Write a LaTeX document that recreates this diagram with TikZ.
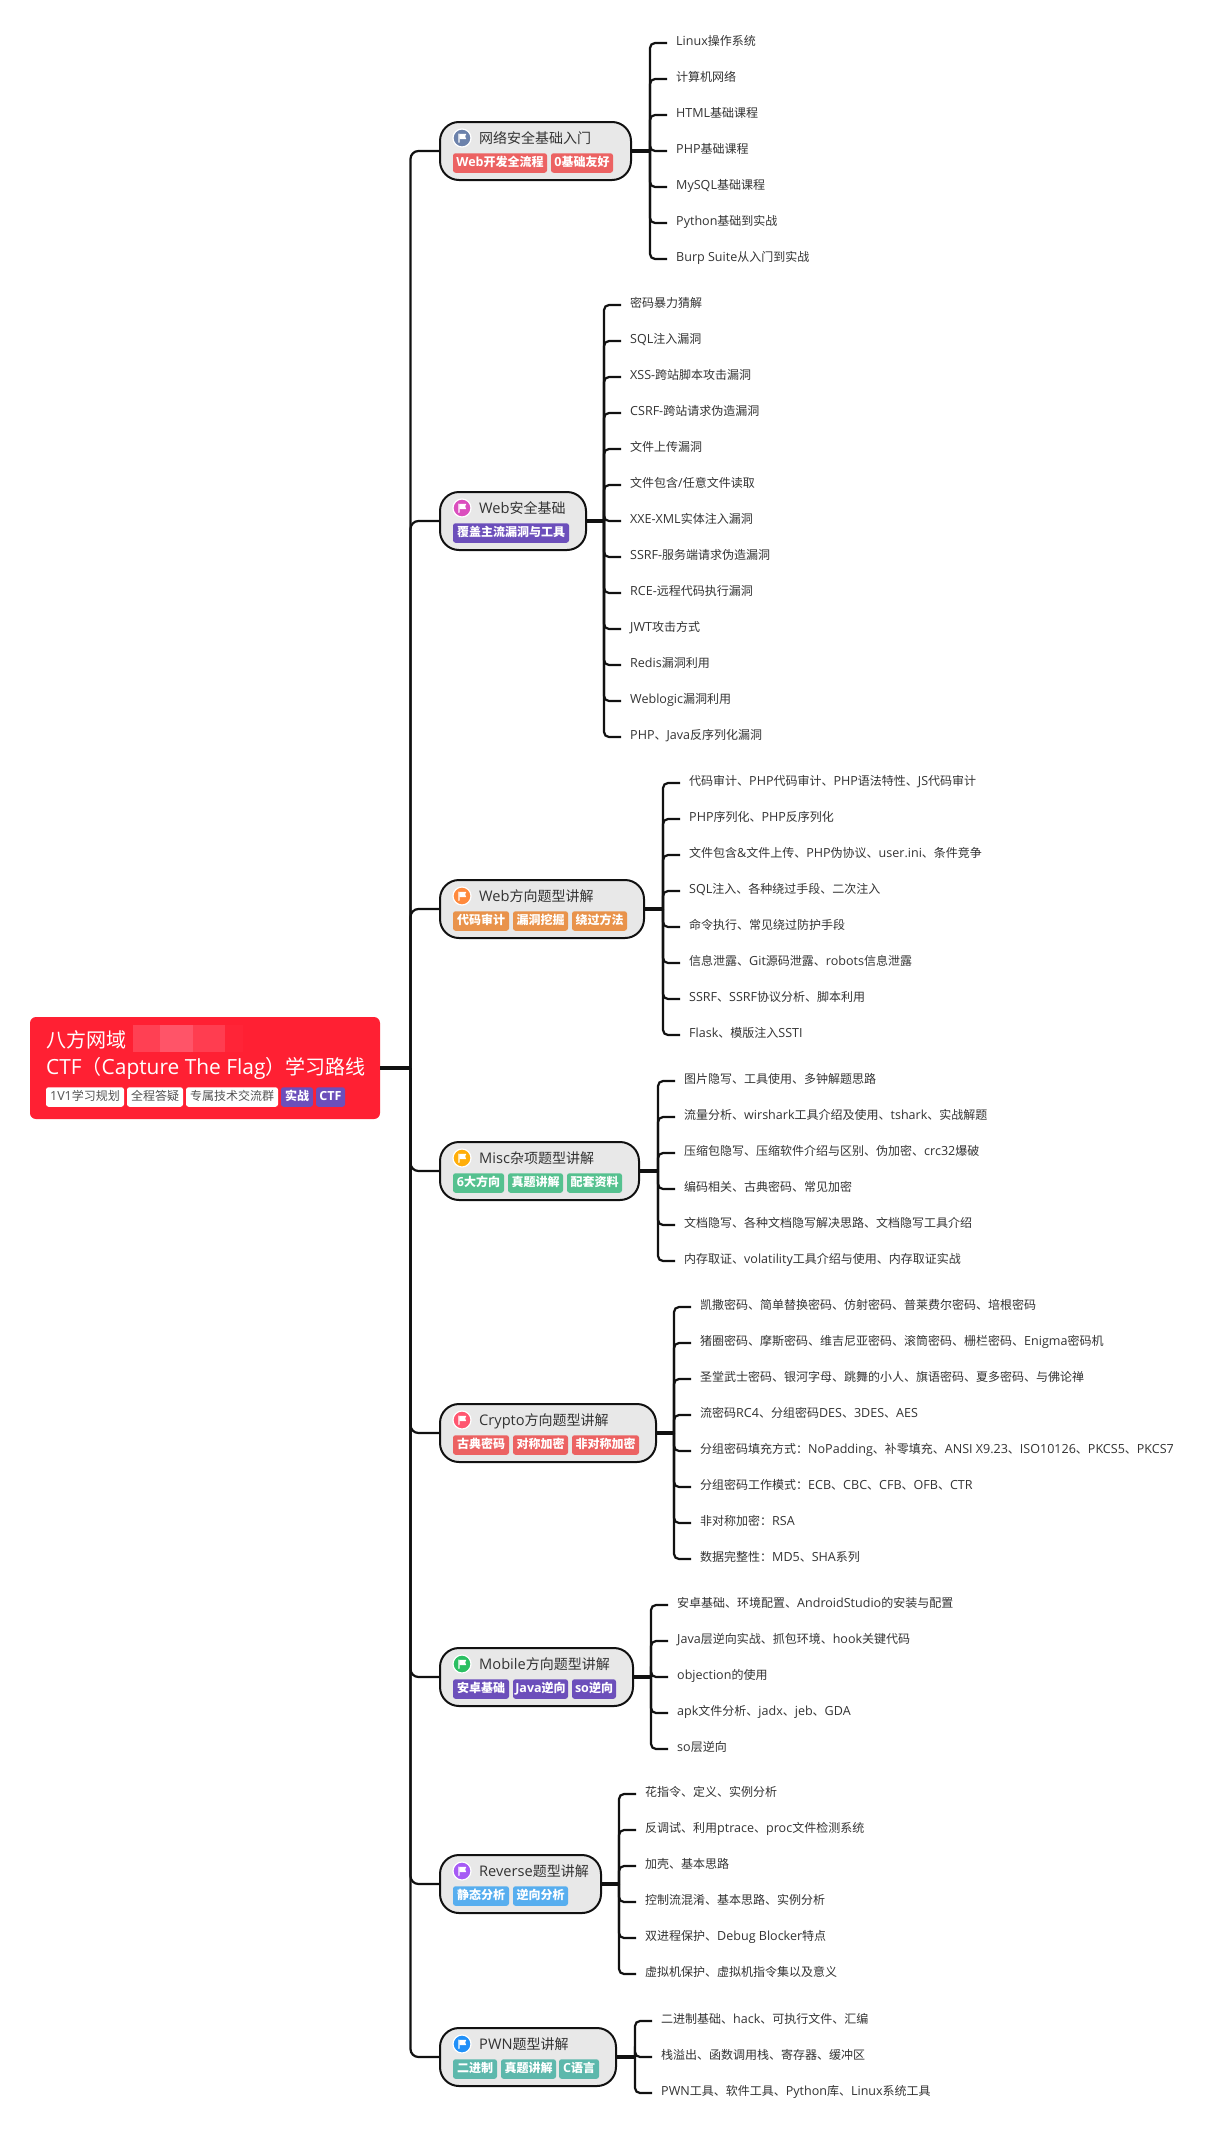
\documentclass[tikz,border=0pt]{standalone}
\usepackage{fontspec}
\setmainfont[Scale=1.045]{Open Sans}
\newfontfamily\cjkf{Noto Sans CJK SC}
% Latin letters in Open Sans, Chinese in Noto Sans CJK SC
\XeTeXinterchartokenstate=1
\newXeTeXintercharclass\cjkclass
\newcount\cjkloop
\newcommand{\markcjk}[2]{\cjkloop=#1 \loop\ifnum\cjkloop<#2 \XeTeXcharclass\cjkloop=\cjkclass \advance\cjkloop by 1 \repeat}
\markcjk{"3000}{"3040}
\markcjk{"4E00}{"A000}
\markcjk{"FF00}{"FFF0}
\XeTeXinterchartoks 0 \cjkclass = {\cjkf}
\XeTeXinterchartoks 4095 \cjkclass = {\cjkf}
\XeTeXinterchartoks \cjkclass 0 = {\rmfamily}
\XeTeXinterchartoks 4095 0 = {\rmfamily}
\definecolor{rootred}{HTML}{FF2033}
\definecolor{ink}{HTML}{333333}
\definecolor{linek}{HTML}{111111}
\definecolor{boxgrey}{HTML}{E8E8E8}
\definecolor{tagred}{HTML}{EC6262}
\definecolor{tagpurple}{HTML}{6C4FBB}
\definecolor{tagorange}{HTML}{E9934B}
\definecolor{taggreen}{HTML}{55C18F}
\definecolor{tagblue}{HTML}{57AEEF}
\definecolor{tagteal}{HTML}{5DB8AC}
\definecolor{ic1}{HTML}{6C82AB}
\definecolor{ic2}{HTML}{DB4FBE}
\definecolor{ic3}{HTML}{FF8A3D}
\definecolor{ic4}{HTML}{FFAE0A}
\definecolor{ic5}{HTML}{FF5670}
\definecolor{ic6}{HTML}{2BBF62}
\definecolor{ic7}{HTML}{A65BF5}
\definecolor{ic8}{HTML}{2090F8}
\definecolor{blura}{HTML}{FF4053}
\definecolor{blurb}{HTML}{FF5468}
\definecolor{blurc}{HTML}{FF3D50}
\definecolor{blurd}{HTML}{FF2437}
\tikzset{
  rootbox/.style={fill=rootred,rounded corners=6pt,inner sep=0pt,minimum width=350pt,minimum height=102pt},
  roottitle/.style={anchor=west,inner sep=0pt,text=white,font=\fontsize{20}{24}\selectfont,text height=15pt,text depth=5pt},
  mainbox/.style={draw=linek,line width=2pt,fill=boxgrey,rounded corners=19pt,inner sep=0pt,minimum height=58pt},
  maintitle/.style={anchor=west,inner sep=0pt,text=ink,font=\fontsize{14}{17}\selectfont,text height=11pt,text depth=3pt},
  dot/.style={circle,draw=white,line width=1.2pt,inner sep=0pt,minimum size=18pt},
  tagbox/.style={rounded corners=2.5pt,inner sep=0pt,minimum height=19.5pt,text=white,font=\fontsize{12}{14}\selectfont\bfseries,text height=9pt,text depth=3pt},
  whitetag/.style={tagbox,fill=white,text=ink!85!white,font=\fontsize{12}{14}\selectfont},
  kid/.style={anchor=west,inner sep=0pt,inner xsep=9pt,text=ink,font=\fontsize{12}{14}\selectfont,text height=9pt,text depth=4pt},
  trunkline/.style={draw=linek,line width=2.2pt,rounded corners=8pt},
  rootstem/.style={draw=linek,line width=3.5pt},
  kidline/.style={draw=linek,line width=2.2pt,rounded corners=5pt},
  kidstem/.style={draw=linek,line width=3.5pt},
}
\newcommand{\mapbranch}[6]{%
  \pgfmathsetmacro{\bw}{#3-440}%
  \pgfmathsetmacro{\bx}{(440+#3)/2}%
  \node[mainbox,minimum width=\bw pt] (#1) at (\bx,#2) {};
  \pgfmathsetmacro{\ty}{#2-13}%
  \pgfmathsetmacro{\tty}{#2-12}%
  \node[maintitle] (#1t) at (479,\tty) {#4};
  \node[dot,fill=#5] (#1i) at (462,\ty) {};
  \begin{scope}[shift={(462,\ty)}]
    \fill[white,rounded corners=0.6pt] (-3.6,-4.6) rectangle (-2.5,5);
    \fill[white,rounded corners=0.6pt] (-2.6,-4.2) -- (4.4,-4.2) -- (3,-1.6) -- (4.4,1) -- (-2.6,1) -- cycle;
  \end{scope}
  \draw[trunkline] (#1.west) -- (trunk |- #1.west) -- (trunk);
  #6
}
\newcommand{\tagat}[6]{%
  \pgfmathsetmacro{\tw}{#3-#2}%
  \pgfmathsetmacro{\tx}{(#2+#3)/2}%
  \pgfmathsetmacro{\tyy}{#4+12}%
  \node[tagbox,fill=#5,minimum width=\tw pt] (#1) at (\tx,\tyy) {#6};
}
\newcommand{\kidset}[5]{%
  \coordinate (#1bus) at (#2,#3);
  \foreach \t [count=\i] in {#5}{%
    \pgfmathsetmacro{\ky}{#3+(\i-(#4+1)/2)*36}%
    \pgfmathsetmacro{\kx}{#2+17}%
    \node[kid] (#1k\i) at (\kx,\ky) {\t};
    \draw[kidline] (#1bus) |- (#1k\i.west);
  }
  \draw[kidstem] (#1.east) -- (#1bus);
}
\begin{document}
\begin{tikzpicture}[x=1pt,y=-1pt]
\useasboundingbox (0,0) rectangle (1212,2136);
\fill[white] (0,0) rectangle (1212,2136);
\coordinate (trunk) at (410.5,1068);
% root
\node[rootbox] (root) at (205,1068) {};
\fill[blura] (133,1025) rectangle (160,1052);
\fill[blurb] (160,1025) rectangle (193,1052);
\fill[blurc] (193,1025) rectangle (225,1052);
\fill[blurd] (225,1025) rectangle (243,1052);
\node[roottitle] (rt1) at (46,1042) {八方网域};
\node[roottitle] (rt2) at (46,1069) {CTF（Capture The Flag）学习路线};
\node[whitetag,minimum width=78pt] (rg1) at (85,1097) {1V1学习规划};
\node[whitetag,minimum width=56pt] (rg2) at (155,1097) {全程答疑};
\node[whitetag,minimum width=92pt] (rg3) at (232,1097) {专属技术交流群};
\node[tagbox,fill=tagpurple,minimum width=32pt] (rg4) at (297,1097) {实战};
\node[tagbox,fill=tagpurple,minimum width=29pt] (rg5) at (330.5,1097) {CTF};
% branches
\mapbranch{pa}{151}{631}{网络安全基础入门}{ic1}{%
  \tagat{paa}{453}{547}{151}{tagred}{Web开发全流程}
  \tagat{pab}{551}{613}{151}{tagred}{0基础友好}}
\kidset{pa}{650}{151}{7}{Linux操作系统,计算机网络,HTML基础课程,PHP基础课程,MySQL基础课程,Python基础到实战,Burp Suite从入门到实战}
\mapbranch{pb}{521}{586}{Web安全基础}{ic2}{%
  \tagat{pba}{453}{569}{521}{tagpurple}{覆盖主流漏洞与工具}}
\kidset{pb}{604}{521}{13}{密码暴力猜解,SQL注入漏洞,XSS-跨站脚本攻击漏洞,CSRF-跨站请求伪造漏洞,文件上传漏洞,文件包含/任意文件读取,XXE-XML实体注入漏洞,SSRF-服务端请求伪造漏洞,RCE-远程代码执行漏洞,JWT攻击方式,Redis漏洞利用,Weblogic漏洞利用,PHP、Java反序列化漏洞}
\mapbranch{pc}{909}{644}{Web方向题型讲解}{ic3}{%
  \tagat{pca}{453}{509}{909}{tagorange}{代码审计}
  \tagat{pcb}{513}{568}{909}{tagorange}{漏洞挖掘}
  \tagat{pcc}{572}{627}{909}{tagorange}{绕过方法}}
\kidset{pc}{663}{909}{8}{代码审计、PHP代码审计、PHP语法特性、JS代码审计,PHP序列化、PHP反序列化,文件包含\&文件上传、PHP伪协议、user.ini、条件竞争,SQL注入、各种绕过手段、二次注入,命令执行、常见绕过防护手段,信息泄露、Git源码泄露、robots信息泄露,SSRF、SSRF协议分析、脚本利用,Flask、模版注入SSTI}
\mapbranch{pd}{1171}{639}{Misc杂项题型讲解}{ic4}{%
  \tagat{pda}{453}{504}{1171}{taggreen}{6大方向}
  \tagat{pdb}{508}{563}{1171}{taggreen}{真题讲解}
  \tagat{pdc}{567}{622}{1171}{taggreen}{配套资料}}
\kidset{pd}{658}{1171}{6}{图片隐写、工具使用、多钟解题思路,流量分析、wirshark工具介绍及使用、tshark、实战解题,压缩包隐写、压缩软件介绍与区别、伪加密、crc32爆破,编码相关、古典密码、常见加密,文档隐写、各种文档隐写解决思路、文档隐写工具介绍,内存取证、volatility工具介绍与使用、内存取证实战}
\mapbranch{pe}{1433}{656}{Crypto方向题型讲解}{ic5}{%
  \tagat{pea}{453}{509}{1433}{tagred}{古典密码}
  \tagat{peb}{513}{568}{1433}{tagred}{对称加密}
  \tagat{pec}{572}{639}{1433}{tagred}{非对称加密}}
\kidset{pe}{674}{1433}{8}{凯撒密码、简单替换密码、仿射密码、普莱费尔密码、培根密码,猪圈密码、摩斯密码、维吉尼亚密码、滚筒密码、栅栏密码、Enigma密码机,圣堂武士密码、银河字母、跳舞的小人、旗语密码、夏多密码、与佛论禅,流密码RC4、分组密码DES、3DES、AES,分组密码填充方式：NoPadding、补零填充、ANSI X9.23、ISO10126、PKCS5、PKCS7,分组密码工作模式：ECB、CBC、CFB、OFB、CTR,非对称加密：RSA,数据完整性：MD5、SHA系列}
\mapbranch{pf}{1677}{633}{Mobile方向题型讲解}{ic6}{%
  \tagat{pfa}{453}{509}{1677}{tagpurple}{安卓基础}
  \tagat{pfb}{513}{568}{1677}{tagpurple}{Java逆向}
  \tagat{pfc}{572}{616}{1677}{tagpurple}{so逆向}}
\kidset{pf}{651}{1677}{5}{安卓基础、环境配置、AndroidStudio的安装与配置,Java层逆向实战、抓包环境、hook关键代码,objection的使用,apk文件分析、jadx、jeb、GDA,so层逆向}
\mapbranch{pg}{1884}{601}{Reverse题型讲解}{ic7}{%
  \tagat{pga}{453}{509}{1884}{tagblue}{静态分析}
  \tagat{pgb}{513}{568}{1884}{tagblue}{逆向分析}}
\kidset{pg}{619}{1884}{6}{花指令、定义、实例分析,反调试、利用ptrace、proc文件检测系统,加壳、基本思路,控制流混淆、基本思路、实例分析,双进程保护、Debug Blocker特点,虚拟机保护、虚拟机指令集以及意义}
\mapbranch{ph}{2057}{616}{PWN题型讲解}{ic8}{%
  \tagat{pha}{453}{497}{2057}{tagteal}{二进制}
  \tagat{phb}{501}{556}{2057}{tagteal}{真题讲解}
  \tagat{phc}{559}{599}{2057}{tagteal}{C语言}}
\kidset{ph}{635}{2057}{3}{二进制基础、hack、可执行文件、汇编,栈溢出、函数调用栈、寄存器、缓冲区,PWN工具、软件工具、Python库、Linux系统工具}
\draw[rootstem] (root.east) -- (trunk);
\end{tikzpicture}
\end{document}
